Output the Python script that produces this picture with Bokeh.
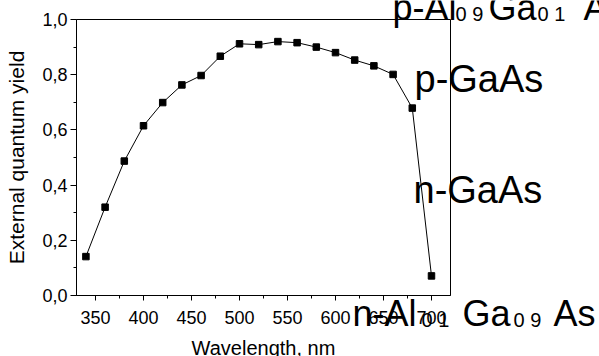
from bokeh.plotting import figure
from bokeh.models import FixedTicker, ColumnDataSource, Range1d
from bokeh.layouts import column
from bokeh.core.properties import value
from bokeh.embed import file_html
from bokeh.resources import INLINE

# ---- data ----
wavelength = [340, 360, 380, 400, 420, 440, 460, 480, 500, 520, 540, 560,
              580, 600, 620, 640, 660, 680, 700]
quantum_yield = [0.141, 0.320, 0.487, 0.615, 0.699, 0.763, 0.797, 0.867,
                 0.912, 0.909, 0.920, 0.916, 0.900, 0.880, 0.853, 0.832,
                 0.801, 0.679, 0.071]

x_ticks = [350, 400, 450, 500, 550, 600, 650, 700]
x_minor = [375, 425, 475, 525, 575, 625, 675]
y_ticks = [0.0, 0.2, 0.4, 0.6, 0.8, 1.0]
y_tick_labels = ["0,0", "0,2", "0,4", "0,6", "0,8", "1,0"]
y_minor = [0.1, 0.3, 0.5, 0.7, 0.9]

x_title = "Wavelength, nm"
y_title = "External quantum yield"

# layer-label pieces
label_text = ["p-Al", "0 9", "Ga", "0 1", "As",
              "p-GaAs", "n-GaAs",
              "n-Al", "0 1", "Ga", "0 9", "As"]
# page-pixel layout: left edge, baseline, font size
label_left = [392, 455, 488, 537, 583, 414, 413, 352, 421, 462, 513, 553]
label_base = [20, 20, 20, 20, 20, 92, 203, 326, 326, 326, 326, 326]
label_px = [36, 20, 36, 20, 36, 38, 38, 36, 20, 36, 20, 36]

FONT = "Liberation Sans"
W, H = 599, 356

p = figure(width=W, height=H, x_range=(330.2, 719.8), y_range=(0, 1),
           output_backend="svg", toolbar_location=None, tools="",
           min_border_left=76, min_border_right=149,
           min_border_top=19, min_border_bottom=61)
p.frame_align = False
p.background_fill_color = "white"
p.border_fill_color = "white"
p.outline_line_color = "black"
p.outline_line_width = 1
p.outline_line_alpha = 1
p.xgrid.visible = False
p.ygrid.visible = False

p.line(wavelength, quantum_yield, line_color="black", line_width=1)
p.scatter(wavelength, quantum_yield, marker="square", size=6.5,
          fill_color="black", line_color="black")

xa = p.xaxis[0]
xa.ticker = FixedTicker(ticks=x_ticks, minor_ticks=x_minor)
ya = p.yaxis[0]
ya.ticker = FixedTicker(ticks=y_ticks, minor_ticks=y_minor)
ya.major_label_overrides = dict(zip(y_ticks, y_tick_labels))
ya.axis_label = y_title

for ax in (xa, ya):
    ax.axis_line_color = "black"
    ax.major_tick_line_color = "black"
    ax.minor_tick_line_color = "black"
    ax.major_tick_in = 0
    ax.minor_tick_in = 0
    ax.minor_tick_out = 3
    ax.major_label_text_font = FONT
    ax.major_label_text_font_size = "18px"
    ax.major_label_text_color = "black"
    ax.axis_label_text_font = FONT
    ax.axis_label_text_font_size = "21px"
    ax.axis_label_text_font_style = "normal"
    ax.axis_label_text_color = "black"

xa.major_tick_out = 5
xa.major_label_standoff = 10
ya.major_tick_out = 6
ya.major_label_standoff = 3
ya.axis_label_standoff = 11

# transparent page-sized layer for texts that lie outside the frame
ov = figure(width=W, height=H, x_range=Range1d(0, W), y_range=Range1d(H, 0),
            x_axis_type=None, y_axis_type=None, min_border=0,
            output_backend="svg", toolbar_location=None, tools="",
            background_fill_color=None, border_fill_color=None,
            outline_line_color=None,
            styles={"position": "absolute", "left": "0px", "top": "0px"})
ov.frame_align = False

# vertical centre of the glyphs sits about 0.35 em above the baseline
mid = [b - 0.35 * s for b, s in zip(label_base, label_px)]
src = ColumnDataSource(dict(x=label_left, y=mid, text=label_text,
                            size=[f"{s}px" for s in label_px]))
ov.text(x="x", y="y", text="text", source=src, text_font=value(FONT),
        text_font_size="size", text_color="black",
        text_align="left", text_baseline="middle")
ov.text(x=[263], y=[354 - 0.35 * 20], text=[x_title], text_font=value(FONT),
        text_font_size="20px", text_color="black",
        text_align="center", text_baseline="middle")

layout = column(p, ov, styles={"position": "relative"})

open("out.html", "w").write(file_html(layout, INLINE))
